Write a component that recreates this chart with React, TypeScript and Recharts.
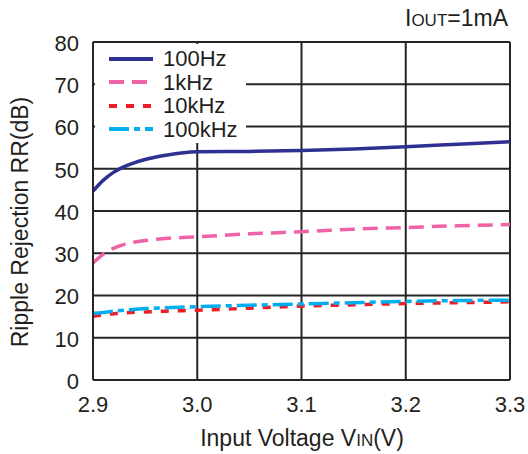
import { LineChart, Line, XAxis, YAxis, CartesianGrid } from "recharts";

const voltages = [2.9, 2.91, 2.92, 2.93, 2.95, 2.97, 3.0, 3.05, 3.1, 3.15, 3.2, 3.25, 3.3];
const rr100Hz = [44.7, 47.3, 49.2, 50.5, 52.2, 53.2, 54.0, 54.1, 54.3, 54.7, 55.2, 55.8, 56.4];
const rr1kHz = [27.7, 29.8, 31.2, 32.1, 33.0, 33.5, 33.9, 34.6, 35.1, 35.7, 36.1, 36.5, 36.8];
const rr10kHz = [15.1, 15.4, 15.7, 15.9, 16.1, 16.3, 16.5, 17.0, 17.5, 17.8, 18.1, 18.3, 18.5];
const rr100kHz = [15.8, 16.0, 16.3, 16.5, 16.9, 17.1, 17.35, 17.7, 18.0, 18.3, 18.6, 18.8, 18.9];

const xTicks = [2.9, 3.0, 3.1, 3.2, 3.3];
const yTicks = [0, 10, 20, 30, 40, 50, 60, 70, 80];

const series = [
  { key: "hz100", name: "100Hz", color: "#2e3192", dash: undefined },
  { key: "khz1", name: "1kHz", color: "#f062a8", dash: "15 8" },
  { key: "khz10", name: "10kHz", color: "#ee1c25", dash: "8 9" },
  { key: "khz100", name: "100kHz", color: "#00aeef", dash: "20 5 6 5" },
];

const data = voltages.map((v, i) => ({
  v,
  hz100: rr100Hz[i],
  khz1: rr1kHz[i],
  khz10: rr10kHz[i],
  khz100: rr100kHz[i],
}));

const FONT = "'Liberation Sans', Arial, sans-serif";
const INK = "#231f20";

// legend drawn as an overlay so it doesn't shrink the plot area
function LegendBox() {
  return (
    <div
      style={{
        position: "absolute",
        left: 95,
        top: 44,
        background: "#fff",
        padding: "3px 8px 2px 14px",
        fontFamily: FONT,
        fontSize: 22,
        lineHeight: "23.5px",
        color: INK,
      }}
    >
      {series.map((s) => (
        <div key={s.key} style={{ display: "flex", alignItems: "center", height: 23.5 }}>
          <svg width={46} height={8} style={{ marginRight: 8 }}>
            <line
              x1={0}
              y1={4}
              x2={44}
              y2={4}
              stroke={s.color}
              strokeWidth={4}
              strokeDasharray={s.dash}
            />
          </svg>
          <span>{s.name}</span>
        </div>
      ))}
    </div>
  );
}

export default function App() {
  return (
    <div style={{ position: "absolute", left: 0, top: 0, width: 528, height: 454, background: "#fff" }}>
      <LineChart
        width={528}
        height={454}
        data={data}
        margin={{ top: 42, right: 18, bottom: 44, left: 33 }}
      >
        <CartesianGrid stroke="#262626" strokeWidth={2} horizontalValues={yTicks} verticalValues={xTicks} />
        <XAxis
          dataKey="v"
          type="number"
          domain={[2.9, 3.3]}
          ticks={xTicks}
          tickFormatter={(t: number) => t.toFixed(1)}
          axisLine={{ stroke: "#262626", strokeWidth: 2 }}
          tickLine={false}
          tickSize={0}
          tickMargin={16}
          height={30}
          tick={{ fontSize: 22, fill: INK, fontFamily: FONT }}
        />
        <YAxis
          type="number"
          domain={[0, 80]}
          ticks={yTicks}
          axisLine={{ stroke: "#262626", strokeWidth: 2 }}
          tickLine={false}
          tickSize={0}
          tickMargin={14}
          width={60}
          tick={{ fontSize: 22, fill: INK, fontFamily: FONT, dy: 1 }}
        />
        {series.map((s) => (
          <Line
            key={s.key}
            type="monotone"
            dataKey={s.key}
            name={s.name}
            stroke={s.color}
            strokeWidth={3.5}
            strokeDasharray={s.dash}
            dot={false}
            activeDot={false}
            isAnimationActive={false}
          />
        ))}
        <text x={302} y={446} textAnchor="middle" fontFamily={FONT} fontSize={23} fill={INK}>
          Input Voltage V<tspan fontSize={17}>IN</tspan>(V)
        </text>
        <text
          x={28}
          y={222}
          textAnchor="middle"
          fontFamily={FONT}
          fontSize={23}
          fill={INK}
          transform="rotate(-90 28 222)"
        >
          Ripple Rejection RR(dB)
        </text>
        <text x={508} y={26} textAnchor="end" fontFamily={FONT} fontSize={23} fill={INK}>
          I<tspan fontSize={17}>OUT</tspan>=1mA
        </text>
      </LineChart>
      <LegendBox />
    </div>
  );
}
